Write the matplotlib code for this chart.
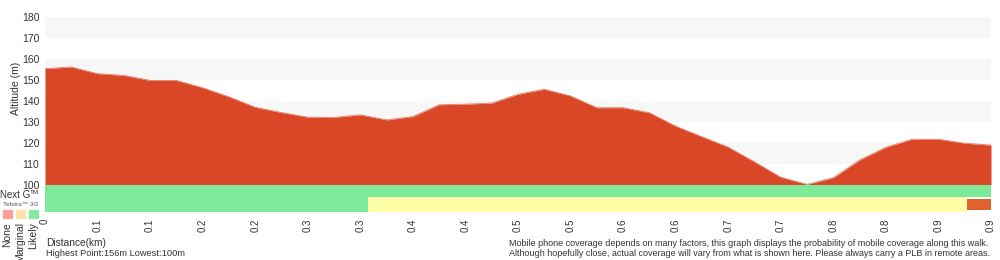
import matplotlib
matplotlib.use("Agg")
import matplotlib.pyplot as plt
from matplotlib.patches import Rectangle

plt.rcParams['font.family'] = ['Liberation Sans', 'DejaVu Sans']

# ---- data ----
distance_km = [0.0, 0.025, 0.05, 0.075, 0.1, 0.125, 0.15, 0.175, 0.2, 0.225, 0.25,
               0.275, 0.3, 0.325, 0.35, 0.375, 0.4, 0.425, 0.45, 0.475, 0.5, 0.525,
               0.55, 0.575, 0.6, 0.625, 0.65, 0.675, 0.7, 0.725, 0.75, 0.775, 0.8,
               0.825, 0.85, 0.875, 0.9]
altitude_m = [155.4, 156.2, 153.0, 152.2, 149.8, 149.8, 146.3, 142.0, 137.0, 134.5, 132.3,
              132.2, 133.4, 131.0, 132.6, 138.2, 138.5, 139.0, 143.2, 145.6, 142.4, 136.8,
              136.8, 134.4, 128.0, 123.0, 118.0, 111.0, 103.7, 100.3, 103.5, 111.9, 118.0,
              121.8, 121.8, 119.9, 119.0]

nextg_start = [0.0]
nextg_end = [0.9]
nextg_level = ['Likely']

g3_start = [0.0, 0.3076, 0.877]
g3_end = [0.3076, 0.877, 0.9]
g3_level = ['Likely', 'Marginal', 'None']

xtick_pos = [0.0, 0.05, 0.1, 0.15, 0.2, 0.25, 0.3, 0.35, 0.4, 0.45, 0.5, 0.55,
             0.6, 0.65, 0.7, 0.75, 0.8, 0.85, 0.9]
xtick_labels = ['0', '0.1', '0.1', '0.2', '0.2', '0.3', '0.3', '0.4', '0.4', '0.5',
                '0.5', '0.6', '0.6', '0.7', '0.7', '0.8', '0.8', '0.9', '0.9']
ytick_vals = [100, 110, 120, 130, 140, 150, 160, 170, 180]

legend_levels = ['None', 'Marginal', 'Likely']

# ---- styles ----
W, H = 1000, 260
bar_colors = {'Likely': '#7DEA9A', 'Marginal': '#FFFDA8', 'None': '#E0622F'}
legend_colors = {'None': '#FF9C9C', 'Marginal': '#FFE2A6', 'Likely': '#86EA9E'}
fill_color = '#D94727'
txt = '#333333'

fig = plt.figure(figsize=(W / 100, H / 100), dpi=100)

def fx(px):
    return px / W

def fy(py):
    return 1 - py / H

# main axes: px x 45..991, y 17..212
ax = fig.add_axes([fx(45), fy(212), fx(991) - fx(45), fy(17) - fy(212)])
ppu = 2.1  # pixels per metre
ymin = 100 - 27 / ppu
ax.set_xlim(0, 0.9)
ax.set_ylim(ymin, 180)
for s in ax.spines.values():
    s.set_visible(False)

# alternating bands
for lo in ytick_vals[:-1]:
    if (lo // 10) % 2 == 1:
        ax.axhspan(lo, lo + 10, color='#F7F7F7', lw=0, zorder=0)

ax.fill_between(distance_km, altitude_m, 100, color=fill_color, lw=0, zorder=2)
ax.plot(distance_km, altitude_m, color='#E57A62', lw=0.6, zorder=2.5)

# coverage bars
ng_top, ng_bot = 100, 100 - 12 / ppu
g3_top, g3_bot = ng_bot, ymin
for s, e, lv in zip(nextg_start, nextg_end, nextg_level):
    ax.add_patch(Rectangle((s, ng_bot), e - s, ng_top - ng_bot, color=bar_colors[lv], lw=0, zorder=3))
for s, e, lv in zip(g3_start, g3_end, g3_level):
    if lv == 'None':
        b, t = 100 - 25 / ppu, 100 - 14 / ppu
    else:
        b, t = g3_bot, g3_top
    ax.add_patch(Rectangle((s, b), e - s, t - b, color=bar_colors[lv], lw=0, zorder=3))

ax.set_yticks(ytick_vals)
ax.set_yticklabels([str(v) for v in ytick_vals], fontsize=7.5, color=txt)
ax.set_xticks(xtick_pos)
ax.set_xticklabels(xtick_labels, rotation=90, fontsize=7, color=txt)
ax.tick_params(length=0, pad=4)
ax.tick_params(axis='x', pad=5)
ax.set_ylabel('Altitude (m)', fontsize=7.5, color=txt)
ax.yaxis.set_label_coords(-0.0255, 0.635)

# left legend
fig.text(fx(0), fy(194.5), 'Next G', fontsize=7.0, color=txt, va='center', ha='left')
fig.text(fx(30), fy(193), 'TM', fontsize=4.5, color=txt, va='center', ha='left')
fig.text(fx(3), fy(204.5), 'Telstra\u2122 3G', fontsize=4.6, color='#555555', va='center', ha='left')
sq_x = [3, 16, 28.5]
for lv, x0 in zip(legend_levels, sq_x):
    fig.patches.append(Rectangle((fx(x0), fy(218)), fx(9), 8 / H, color=legend_colors[lv],
                                 transform=fig.transFigure, figure=fig))
    fig.text(fx(x0 + 4.5), fy(222), lv, fontsize=7.5, color=txt, rotation=90,
             ha='center', va='top')

# footer text
fig.text(fx(46), fy(243), 'Distance(km)', fontsize=7.3, color=txt, va='center', ha='left')
fig.text(fx(46), fy(253), 'Highest Point:156m Lowest:100m', fontsize=6.7, color=txt,
         va='center', ha='left')
fig.text(fx(509), fy(243), 'Mobile phone coverage depends on many factors, this graph displays the probability of mobile coverage along this walk.',
         fontsize=6.45, color=txt, va='center', ha='left')
fig.text(fx(509), fy(253), 'Although hopefully close, actual coverage will vary from what is shown here. Please always carry a PLB in remote areas.',
         fontsize=6.45, color=txt, va='center', ha='left')

fig.savefig('out.png', dpi=100)
